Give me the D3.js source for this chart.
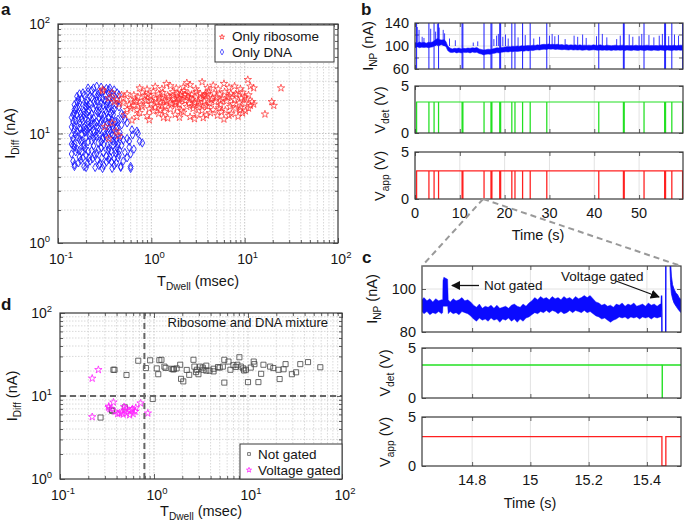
<!DOCTYPE html>
<html><head><meta charset="utf-8">
<script src="https://cdn.jsdelivr.net/npm/d3@7"></script>
<style>
body{margin:0;background:#fff}
svg{display:block}
text{font-family:"Liberation Sans",Arial,Helvetica,sans-serif;fill:#151515}
</style>
</head><body><script>
// ================= DATA =================
// Panel a: [T_Dwell (msec), I_Diff (nA)]
const ribosomeA = [
[0.9,14.5],[1.2,15.2],[1.5,13.8],[1.8,14.9],[2.2,15.6],[2.6,14.2],[3.1,15.0],[3.6,13.9],[4.3,15.4],[5.1,14.6],[6.0,13.5],[7.2,15.1],[8.5,14.3],[1.05,16.0],[1.35,14.0],[0.75,15.5],[9.5,15.3],[3.9,14.7],
[0.6,17.0],[0.7,16.4],[0.8,17.5],[0.95,16.8],[1.1,17.3],[1.25,16.3],[1.4,17.8],[1.6,16.6],[1.9,17.2],[2.1,16.1],[2.4,17.6],[2.8,16.9],[3.2,17.4],[3.5,16.2],[4.0,17.7],[4.6,16.5],[5.3,17.1],[6.2,16.3],[7.0,17.6],[8.0,16.8],[9.0,17.3],[10.2,16.0],[11.0,17.0],[0.55,16.5],[0.65,18.0],
[0.5,19.0],[0.58,18.4],[0.68,19.5],[0.78,18.2],[0.88,19.8],[1.0,18.6],[1.15,19.3],[1.3,18.1],[1.45,19.7],[1.65,18.5],[1.85,19.4],[2.0,18.3],[2.3,19.9],[2.55,18.7],[2.9,19.1],[3.3,18.4],[3.7,19.6],[4.2,18.9],[4.8,19.4],[5.5,18.2],[6.4,19.7],[7.5,18.6],[8.8,19.2],[10.0,18.8],[11.5,18.0],[0.45,18.5],[0.4,19.5],
[0.5,21.0],[0.6,20.4],[0.72,21.5],[0.85,20.2],[0.98,21.8],[1.1,20.6],[1.22,21.3],[1.38,20.1],[1.55,21.6],[1.75,20.7],[1.95,21.2],[2.15,20.3],[2.45,21.7],[2.75,20.5],[3.0,21.4],[3.4,20.8],[3.8,21.9],[4.4,20.3],[5.0,21.5],[5.8,20.6],[6.6,21.3],[7.8,20.2],[9.2,21.0],[10.5,20.5],[0.35,21.0],[0.42,20.5],
[0.55,23.0],[0.65,22.4],[0.8,23.8],[0.92,22.6],[1.05,24.2],[1.2,22.9],[1.32,23.6],[1.5,22.3],[1.7,24.0],[1.9,23.1],[2.05,22.5],[2.25,24.5],[2.5,23.2],[2.7,22.7],[3.05,24.1],[3.35,23.0],[3.75,22.6],[4.1,24.4],[4.7,23.3],[5.4,22.8],[6.1,24.0],[7.1,23.2],[8.2,22.6],[9.5,23.7],[0.3,24.5],[0.38,23.5],[0.48,22.5],
[0.75,26.0],[0.9,25.3],[1.1,26.8],[1.3,25.6],[1.6,27.2],[1.85,25.9],[2.2,26.5],[2.6,27.8],[3.0,25.5],[3.5,29.5],[4.0,26.2],[4.6,27.5],[5.2,25.4],[6.0,28.5],[6.8,26.3],[7.8,27.0],[1.45,28.5],[2.4,29.0],[0.3,25.2],
[0.32,11.5],[0.38,12.5],[0.42,10.5],[0.45,9.5],[0.35,9.0],
[10.8,31],[11.5,27],[12.5,26],[12.0,19.5],[12.5,18.5],[16.5,15],[19.5,19.5],[20.5,18],[24.5,26],[8,23],[9,25.5],[10,21.5],[11,22.5],
[1.0,20.0],[1.3,21.0],[1.7,22.0],[2.0,20.8],[2.3,22.5],[2.6,21.0],[3.2,19.5],[3.6,22.0],[4.5,21.0],[1.2,18.0],[1.8,18.9],[2.8,17.9],[3.8,18.0],[5.5,20.0],[6.8,22.0],[0.7,20.0],[0.85,22.0],[1.6,19.0],[2.1,23.5],[4.0,23.0],
[0.62,13.2],[0.7,14.2],[0.95,13.3],[1.4,15.8],[2.0,14.0],[2.9,13.6],[5.6,15.8],[6.8,14.6],[8.9,16.4],[0.52,14.8]
];
const dnaA = [
[0.15,5.2],[0.17,6.1],[0.19,5.0],[0.22,5.6],[0.25,4.9],[0.28,5.3],[0.31,5.1],[0.35,5.8],[0.38,4.8],[0.42,5.4],[0.47,5.0],[0.6,4.8],
[0.14,6.5],[0.16,7.2],[0.18,6.8],[0.2,6.3],[0.23,7.0],[0.26,6.6],[0.29,7.4],[0.33,6.2],[0.37,6.9],[0.41,7.1],[0.45,6.4],[0.52,6.7],
[0.15,8.1],[0.17,8.8],[0.19,7.9],[0.21,8.4],[0.24,9.1],[0.27,8.2],[0.3,8.9],[0.34,7.8],[0.39,8.5],[0.44,8.0],[0.5,8.7],[0.58,7.5],
[0.14,9.6],[0.16,10.4],[0.18,9.9],[0.2,11.0],[0.22,10.1],[0.25,9.5],[0.28,10.8],[0.32,9.8],[0.36,10.6],[0.4,9.4],[0.46,10.2],[0.55,9.0],
[0.15,11.8],[0.17,12.5],[0.19,11.4],[0.21,13.0],[0.23,12.1],[0.26,11.6],[0.29,12.8],[0.33,11.9],[0.37,12.4],[0.42,11.2],[0.48,12.0],
[0.14,14.0],[0.16,14.8],[0.18,13.6],[0.2,15.2],[0.22,14.3],[0.24,13.9],[0.27,15.5],[0.31,14.6],[0.35,13.8],[0.39,14.9],[0.44,13.5],
[0.15,16.5],[0.17,17.4],[0.19,16.0],[0.21,18.0],[0.24,16.8],[0.28,17.6],[0.32,16.3],[0.36,17.9],[0.4,16.6],
[0.16,19.5],[0.18,20.6],[0.2,19.0],[0.23,21.2],[0.26,19.8],[0.3,20.9],[0.34,19.3],[0.38,21.5],[0.43,20.1],
[0.17,23.0],[0.21,24.1],[0.24,26.0],[0.27,22.8],[0.31,24.6],[0.35,23.4],[0.4,25.0],[0.45,22.5],[0.29,26.5],[0.36,26.0],
[0.145,5.6],[0.165,5.4],[0.185,6.0],[0.205,5.3],[0.235,5.9],[0.265,5.7],[0.295,6.0],[0.33,5.5],[0.36,6.1],[0.4,5.9],[0.44,6.0],[0.5,5.6],
[0.15,7.5],[0.17,7.0],[0.19,7.6],[0.21,6.9],[0.24,7.7],[0.27,7.1],[0.31,7.9],[0.35,7.3],[0.39,7.8],[0.43,7.4],[0.48,7.8],
[0.145,8.9],[0.16,9.3],[0.18,8.6],[0.2,9.2],[0.23,8.5],[0.26,9.4],[0.29,8.4],[0.33,9.3],[0.37,8.8],[0.42,9.0],[0.47,9.3],
[0.15,10.9],[0.17,11.2],[0.19,10.7],[0.22,11.5],[0.24,10.6],[0.27,11.3],[0.31,10.5],[0.35,11.1],[0.39,10.9],[0.43,11.5],
[0.145,12.8],[0.165,13.4],[0.185,12.9],[0.21,12.0],[0.23,13.3],[0.26,12.7],[0.3,13.5],[0.34,12.6],[0.38,13.2],[0.41,12.9],
[0.15,15.4],[0.17,15.9],[0.19,14.8],[0.21,15.8],[0.23,15.1],[0.26,16.0],[0.29,14.7],[0.33,15.6],[0.37,15.3],
[0.15,18.3],[0.17,19.0],[0.2,17.5],[0.22,18.7],[0.25,18.2],[0.29,18.9],[0.33,18.1],[0.37,19.2],[0.42,18.5],
[0.16,21.8],[0.19,22.3],[0.22,21.9],[0.25,23.0],[0.28,21.4],[0.32,22.2],[0.36,21.0],
[0.155,6.8],[0.175,5.7],[0.195,7.3],[0.215,6.0],[0.245,6.4],[0.275,5.1],[0.305,6.7],[0.345,7.0],[0.375,5.5],[0.415,6.6],[0.455,7.0],
[0.155,9.9],[0.175,8.4],[0.195,10.3],[0.215,9.6],[0.245,10.2],[0.275,9.8],[0.305,9.2],[0.345,10.2],[0.385,9.7],[0.425,8.6],
[0.155,13.0],[0.175,11.0],[0.195,13.6],[0.215,11.3],[0.245,12.4],[0.275,13.8],[0.305,12.2],[0.345,14.0],[0.385,11.7],[0.435,12.6],
[0.155,17.0],[0.175,15.2],[0.195,17.8],[0.215,16.4],[0.245,19.5],[0.275,16.2],[0.305,18.0],[0.345,17.0],[0.385,16.0],[0.45,17.5],
[0.165,20.5],[0.185,23.5],[0.205,20.0],[0.23,24.8],[0.26,21.7],[0.285,24.0],[0.32,20.2],[0.35,25.0],[0.39,22.8],[0.43,23.5],
[0.145,7.8],[0.14,11.5],[0.14,8.0],[0.145,15.0],[0.15,5.0],[0.2,4.9],[0.3,4.8],[0.4,5.1],[0.21,26.0],[0.26,27.0],[0.33,25.8],
[0.62,10.8],[0.55,12.5],[0.7,10.5],[0.75,8.5],[0.8,8.2],[0.6,6.5],[0.65,7.2],[0.52,13.5],[0.58,8.5],[0.63,9.7],[0.6,5.0],[0.5,14.5],[0.55,6.0],[0.72,10.0],[0.48,15.2],[0.47,4.9]
];
// Panel d
const notGatedD = [
[0.68,26.6],[0.37,20.7],[0.38,20.7],[0.51,17.9],[0.27,5.5],[0.355,6.8],[0.49,7.3],[0.97,9.2],[0.82,21.7],[0.91,26.9],[1.07,21.5],[1.11,18.3],[1.14,27],[1.2,27.3],[1.29,22.6],[1.33,21.8],[1.54,21.3],[1.63,21.1],[1.74,21.5],[1.9,23.8],[1.94,16.1],[2.05,15],[2.23,20.6],[2.37,18.0],[2.63,27.3],[2.69,22.6],[2.86,20.7],[2.97,18.3],[3.09,22.6],[3.36,20.7],[3.6,23.2],[3.9,20.2],[4.3,21.3],[5.0,22],[5.4,22.6],[5.6,27.3],[5.6,14.5],[6.2,26.0],[6.5,20.7],[7.0,23.5],[7.7,23.8],[8.1,29.3],[8.4,22.6],[8.9,21.5],[9.5,20.7],[10.0,14.7],[10.7,22],[11.5,26],[11.7,24.2],[12.9,14.7],[13.8,18.5],[14.6,23.8],[17.2,22.6],[18.6,21.7],[21.1,20.7],[21.7,16],[23.9,21],[25.1,24.2],[29.3,18.3],[32.5,19.3],[36.0,24.2],[43.5,25.6],[58.8,22.2],[4.3,19.8],[3.6,20.2],[4.8,22.3],[7.4,22.4],[9.1,20.3],[1.6,20.9],[2.8,19.4],[3.3,22.0],[0.36,6.6]
];
const gatedD = [
[0.22,16.3],[0.256,20.7],[0.22,5.6],[0.33,7.3],[0.34,7.0],[0.37,8.4],[0.385,6.5],[0.41,6.1],[0.45,6.3],[0.48,7.4],[0.49,6.7],[0.51,6.2],[0.55,5.9],[0.58,6.8],[0.6,6.1],[0.63,6.5],[0.64,7.2],[0.72,8.2],[0.86,6.2],[0.43,6.2],[0.33,7.5],[0.56,6.6],[0.59,7.0],[0.5,7.1],[0.47,6.0]
];
const dThresholdT = 0.79, dThresholdI = 10;
// Log axes ticks
const logXMajor = [0.1, 1, 10, 100], logXExp = ["-1", "0", "1", "2"];
const logYMajor = [1, 10, 100], logYExp = ["0", "1", "2"];
// Panel b
const bTimeTicks = [0, 10, 20, 30, 40, 50];
const bCurrentTicks = [60, 80, 100, 120, 140];
const bCurrentLabels = [60, 100, 140];
const vTicks = [0, 5];
const bGates = [0.35,3.1,4.25,5.25,10.5,10.68,15.4,16.95,17.15,18.9,19.1,21.6,22.3,24.0,25.7,29.4,41.0,46.5,46.68,51.1,55.7,55.9,57.3,59.7];
// [time (s), low (nA), high (nA)] envelope of the noisy current
const bEnvelope = [[0,97,106],[0.5,98.5,105],[1,97,107],[1.5,98,105.5],[2,97.5,106.5],[2.5,98,105],[3,97,106.5],[3.5,98,106],[4,98.5,107.5],[4.5,101,110.5],[5,102,113],[5.5,101.5,111],[6,102,110.5],[6.5,100.5,111],[6.9,99,108],[7.3,92,100],[7.8,89,96.5],[8.3,88.5,95],[8.8,89.5,96],[9.3,88,95.5],[9.8,89,96.5],[10.3,88,95],[10.8,89,96],[11.3,88.5,95.5],[11.8,89,96.5],[12.3,88,96],[12.8,89.5,97],[13.3,88.5,96.5],[13.8,89,97.5],[14.3,87,95],[14.8,86,94],[15.3,84.5,93],[15.8,85.5,93.5],[16.3,86,94.5],[16.8,85.5,94],[17.3,87,95],[17.8,87.5,96],[18.3,88.5,97],[18.8,88,96.5],[19.3,89,97.5],[19.8,89.5,98],[20.3,90,98.5],[20.8,89.5,99],[21.3,90.5,98.5],[21.8,90,99.5],[22.3,91,99],[22.8,90.5,100],[23.3,91,99.5],[23.8,91.5,100.5],[24.3,91,100],[24.8,92,100.5],[25.3,91.5,101],[25.8,92.5,100.5],[26.3,92,101.5],[26.8,93,101],[27.3,93.5,102],[27.8,93,101.5],[28.3,94,102.5],[28.8,94.5,103],[29.3,94,102.5],[29.8,95,103.5],[30.3,94.5,102.5],[30.8,95,103],[31.3,94,102.5],[31.8,94.5,103],[32.3,94,102],[32.8,93.5,102.5],[33.3,94,101.5],[33.8,93.5,102.5],[34.3,93,101.5],[34.8,94,102],[35.3,93,101.5],[35.8,93.5,102],[36.3,93,101],[36.8,93.5,102],[37.3,92.5,101],[37.8,93,101.5],[38.3,93.5,101],[38.8,92.5,101.5],[39.3,93,101],[39.8,93.5,102],[40.3,93,101.5],[40.8,92.5,101],[41.3,93,102],[41.8,92.5,101],[42.3,93,100.5],[42.8,92.5,101.5],[43.3,93,101],[43.8,92,100.5],[44.3,93,101],[44.8,92.5,101.5],[45.3,93,100.5],[45.8,92.5,101],[46.3,93,101.5],[46.8,92,100.5],[47.3,93,101],[47.8,92.5,100.5],[48.3,92,101],[48.8,93,100.5],[49.3,92.5,101.5],[49.8,92,100.5],[50.3,93,101],[50.8,92.5,100.5],[51.3,92,101],[51.8,93,101.5],[52.3,92.5,100.5],[52.8,92,101],[53.3,93,100.5],[53.8,92.5,101],[54.3,92,100.5],[54.8,93,101.5],[55.3,92.5,100.5],[55.8,92,101],[56.3,93,100.5],[56.8,92.5,101],[57.3,92,100.5],[57.8,93,101.5],[58.3,92.5,100.5],[58.8,93,101],[59.3,92.5,101.5],[59.8,93,101]];
const bSpikes = [[0.5,133],[0.9,128],[1.6,116],[2.0,114],[3.5,130],[4.6,125],[5.0,139],[5.4,132],[6.3,128],[6.6,122],[7.7,113],[9.0,110],[13.0,106],[14.0,108],[17.6,112],[18.2,118],[18.6,121],[19.6,116],[20.2,120],[20.8,113],[23.0,115],[24.6,119],[26.5,113],[27.8,116],[30.0,118],[30.6,121],[31.2,117],[32.0,119],[33.5,112],[35.5,118],[36.3,116],[37.4,120],[38.2,114],[40.5,117],[41.8,121],[42.8,115],[45.0,112],[45.8,118],[47.8,120],[48.6,116],[50.0,117],[50.6,121],[52.2,119],[53.3,115],[54.5,118],[55.2,121],[56.6,117],[57.9,120],[58.8,118]];
const vDetLevel = 3.3, vAppLevel = 3.0;
// Panel c
const cTimeTicks = [14.8, 15, 15.2, 15.4];
const cTimeLabels = ["14.8", "15", "15.2", "15.4"];
const cCurrentTicks = [80, 100];
const cEnvelope = [[14.627,89.5,95],[14.635,88.5,96],[14.645,89.5,94.5],[14.655,88,95.5],[14.665,89,94],[14.675,88.5,95.5],[14.685,89.5,94.5],[14.695,88.5,95],[14.699,89,95],[14.700,92,104],[14.703,92,105.5],[14.716,92,104.5],[14.718,88.5,95],[14.725,89.5,94],[14.735,88.5,95.5],[14.745,89,94.5],[14.755,88,95],[14.765,89.5,96],[14.775,89,94.5],[14.785,88.5,95],[14.795,87.5,94],[14.805,86,92.5],[14.815,85,91.5],[14.825,86.5,93],[14.835,85.5,91],[14.845,86,92],[14.855,85,91.5],[14.865,86.5,92.5],[14.875,85.5,91],[14.885,86,92.5],[14.895,84.5,91],[14.905,86,91.5],[14.915,85.5,92],[14.925,86.5,91],[14.935,85,92.5],[14.945,86,93],[14.955,84.5,92],[14.965,86,91.5],[14.975,85,93],[14.985,86.5,92],[14.995,87,93.5],[15.005,88,94.5],[15.015,89,96],[15.025,88.5,95],[15.035,89.5,96.5],[15.045,89,95.5],[15.055,90,96],[15.065,89,95],[15.075,90,96.5],[15.085,89.5,95.5],[15.095,88.5,96],[15.105,89.5,95],[15.115,88.5,96.5],[15.125,89,95.5],[15.135,90,96],[15.145,89,95],[15.155,90,96.5],[15.165,89.5,95.5],[15.175,89,96],[15.185,90,97],[15.195,89,96],[15.205,89.5,97],[15.215,88.5,95.5],[15.225,87.5,94],[15.235,87,93.5],[15.245,86,92.5],[15.255,86.5,93],[15.265,85.5,92],[15.275,84.5,92.5],[15.285,85.5,91.5],[15.295,86,93],[15.305,87,92.5],[15.315,86.5,93.5],[15.325,87,92],[15.335,86,93],[15.345,87,92.5],[15.355,86.5,93.5],[15.365,87,92],[15.375,86,92.5],[15.385,87,93],[15.395,86.5,92],[15.405,87,93.5],[15.415,86,92.5],[15.425,87,93],[15.435,86.5,92],[15.445,87,93],[15.449,87,93]];
const cGateT = [15.449,15.4503,15.4512,15.4518,15.4645,15.4650,15.4665];
const cGateI = [90,97,89,70,70,120,120];
const cDecay = [[15.479,112,120],[15.481,103,113],[15.484,98,106],[15.488,95.5,102],[15.493,93.5,100],[15.500,92,98],[15.505,91,97.5],[15.510,90,96],[15.518,89,95]];
const cDetPulse = [15.4525, 15.4528];
const cAppPulse = [15.4515, 15.465];

// ================= DRAWING =================
const W = 685, H = 528;
const svg = d3.select("body").append("svg").attr("width", W).attr("height", H);
const AX = "#3a3a3a";
let clipId = 0;
function clip(box) {
  const id = "clip" + (clipId++);
  svg.append("clipPath").attr("id", id).append("rect")
    .attr("x", box.l).attr("y", box.t).attr("width", box.r - box.l).attr("height", box.b - box.t);
  return "url(#" + id + ")";
}
function cleanAxis(sel) {
  sel.select(".domain").remove();
  sel.selectAll("line").attr("stroke", AX).attr("stroke-width", 0.8);
  sel.selectAll("text").remove();
}
function drawBox(g, box) {
  g.append("rect").attr("x", box.l).attr("y", box.t).attr("width", box.r - box.l).attr("height", box.b - box.t)
    .attr("fill", "none").attr("stroke", AX).attr("stroke-width", 1.2);
}
function supLabel(sel, base, exp) {
  sel.append("tspan").text(base);
  sel.append("tspan").attr("dy", -6).attr("font-size", 9.5).text(exp);
}
function subLabel(sel, main, sub, rest, fs) {
  sel.append("tspan").text(main);
  sel.append("tspan").attr("dy", 4).attr("font-size", fs * 0.7).text(sub);
  sel.append("tspan").attr("dy", -4).text(rest);
}

function logPanel(box) {
  const g = svg.append("g");
  const x = d3.scaleLog().domain([0.1, 100]).range([box.l, box.r]);
  const y = d3.scaleLog().domain([1, 100]).range([box.b, box.t]);
  const xt = x.ticks(), yt = y.ticks();
  const isMajor = d => Math.abs(Math.log10(d) - Math.round(Math.log10(d))) < 1e-6;
  const grid = g.append("g");
  grid.selectAll(".gx").data(xt.filter(d => d > 0.1 && d < 100)).join("line")
    .attr("x1", d => x(d)).attr("x2", d => x(d)).attr("y1", box.t).attr("y2", box.b)
    .attr("stroke", d => isMajor(d) ? "#b8b8b8" : "#cfcfcf").attr("stroke-width", 0.8).attr("stroke-dasharray", "1.5,1.5");
  grid.selectAll(".gy").data(yt.filter(d => d > 1 && d < 100)).join("line")
    .attr("y1", d => y(d)).attr("y2", d => y(d)).attr("x1", box.l).attr("x2", box.r)
    .attr("stroke", d => isMajor(d) ? "#b8b8b8" : "#cfcfcf").attr("stroke-width", 0.8).attr("stroke-dasharray", "1.5,1.5");
  const minX = xt.filter(d => !isMajor(d)), majX = xt.filter(isMajor);
  const minY = yt.filter(d => !isMajor(d)), majY = yt.filter(isMajor);
  [[d3.axisBottom, box.b], [d3.axisTop, box.t]].forEach(([f, pos]) => {
    g.append("g").attr("transform", `translate(0,${pos})`).call(f(x).tickValues(minX).tickSize(-3).tickFormat("")).call(cleanAxis);
    g.append("g").attr("transform", `translate(0,${pos})`).call(f(x).tickValues(majX).tickSize(-5).tickFormat("")).call(cleanAxis);
  });
  [[d3.axisLeft, box.l], [d3.axisRight, box.r]].forEach(([f, pos]) => {
    g.append("g").attr("transform", `translate(${pos},0)`).call(f(y).tickValues(minY).tickSize(-3).tickFormat("")).call(cleanAxis);
    g.append("g").attr("transform", `translate(${pos},0)`).call(f(y).tickValues(majY).tickSize(-5).tickFormat("")).call(cleanAxis);
  });
  g.selectAll(".xl").data(logXMajor).join("text")
    .attr("x", d => x(d) + 3).attr("y", box.b + 21).attr("text-anchor", "middle").attr("font-size", 14)
    .each(function (d, i) { supLabel(d3.select(this), "10", logXExp[i]); });
  g.selectAll(".yl").data(logYMajor).join("text")
    .attr("x", box.l - 8).attr("y", d => y(d) + 5).attr("text-anchor", "end").attr("font-size", 14)
    .each(function (d, i) { supLabel(d3.select(this), "10", logYExp[i]); });
  return { g, x, y };
}

// ---------- Panel a ----------
const boxA = { l: 58, r: 338, t: 24, b: 243 };
const A = logPanel(boxA);
const cpA = clip(boxA);
const diamond = d3.symbol().type(d3.symbolDiamond).size(20);
const star = d3.symbol().type(d3.symbolStar).size(17);
A.g.append("g").attr("clip-path", cpA).selectAll("path").data(dnaA).join("path")
  .attr("d", diamond).attr("transform", d => `translate(${A.x(d[0])},${A.y(d[1])})`)
  .attr("fill", "none").attr("stroke", "#1515ff").attr("stroke-width", 0.85);
A.g.append("g").attr("clip-path", cpA).selectAll("path").data(ribosomeA).join("path")
  .attr("d", star).attr("transform", d => `translate(${A.x(d[0])},${A.y(d[1])})`)
  .attr("fill", "none").attr("stroke", "#ff2a2a").attr("stroke-width", 0.7);
drawBox(A.g, boxA);
// legend a
A.g.append("rect").attr("x", 215).attr("y", 25).attr("width", 119).attr("height", 37)
  .attr("fill", "#fff").attr("stroke", AX).attr("stroke-width", 1);
A.g.append("path").attr("d", d3.symbol().type(d3.symbolStar).size(8)).attr("transform", "translate(222,37)")
  .attr("fill", "none").attr("stroke", "#ff1a1a").attr("stroke-width", 0.7);
A.g.append("path").attr("d", d3.symbol().type(d3.symbolDiamond).size(10)).attr("transform", "translate(222,52)")
  .attr("fill", "none").attr("stroke", "#1a1aff").attr("stroke-width", 0.7);
A.g.append("text").attr("x", 232).attr("y", 41).attr("font-size", 13.5).text("Only ribosome");
A.g.append("text").attr("x", 232).attr("y", 57).attr("font-size", 13.5).text("Only DNA");
subLabel(svg.append("text").attr("transform", `translate(15,${(boxA.t + boxA.b) / 2}) rotate(-90)`)
  .attr("text-anchor", "middle").attr("font-size", 14.5), "I", "Diff", " (nA)", 14.5);
subLabel(svg.append("text").attr("x", (boxA.l + boxA.r) / 2).attr("y", 286).attr("text-anchor", "middle").attr("font-size", 14.5),
  "T", "Dwell", " (msec)", 14.5);

// ---------- Panel d ----------
const boxD = { l: 60, r: 342, t: 313, b: 479 };
const D = logPanel(boxD);
const cpD = clip(boxD);
const square = d3.symbol().type(d3.symbolSquare).size(26);
D.g.append("g").attr("clip-path", cpD).selectAll("path").data(notGatedD).join("path")
  .attr("d", square).attr("transform", d => `translate(${D.x(d[0])},${D.y(d[1])})`)
  .attr("fill", "none").attr("stroke", "#444").attr("stroke-width", 0.8);
D.g.append("g").attr("clip-path", cpD).selectAll("path").data(gatedD).join("path")
  .attr("d", star).attr("transform", d => `translate(${D.x(d[0])},${D.y(d[1])})`)
  .attr("fill", "none").attr("stroke", "#ff22ff").attr("stroke-width", 0.8);
D.g.append("line").attr("x1", D.x(dThresholdT)).attr("x2", D.x(dThresholdT)).attr("y1", boxD.t).attr("y2", boxD.b)
  .attr("stroke", "#666").attr("stroke-width", 2).attr("stroke-dasharray", "6,4");
D.g.append("line").attr("x1", boxD.l).attr("x2", boxD.r).attr("y1", D.y(dThresholdI)).attr("y2", D.y(dThresholdI))
  .attr("stroke", "#666").attr("stroke-width", 2).attr("stroke-dasharray", "6,4");
drawBox(D.g, boxD);
D.g.append("text").attr("x", 328).attr("y", 327).attr("text-anchor", "end").attr("font-size", 13).text("Ribosome and DNA mixture");
D.g.append("rect").attr("x", 240).attr("y", 444).attr("width", 102).attr("height", 35)
  .attr("fill", "#fff").attr("stroke", AX).attr("stroke-width", 1);
D.g.append("path").attr("d", d3.symbol().type(d3.symbolSquare).size(8)).attr("transform", "translate(249,454)")
  .attr("fill", "none").attr("stroke", "#444").attr("stroke-width", 0.7);
D.g.append("path").attr("d", d3.symbol().type(d3.symbolStar).size(8)).attr("transform", "translate(249,470)")
  .attr("fill", "none").attr("stroke", "#ff22ff").attr("stroke-width", 0.8);
D.g.append("text").attr("x", 258).attr("y", 459).attr("font-size", 13.5).text("Not gated");
D.g.append("text").attr("x", 258).attr("y", 475).attr("font-size", 13.5).text("Voltage gated");
subLabel(svg.append("text").attr("transform", `translate(17,${(boxD.t + boxD.b) / 2}) rotate(-90)`)
  .attr("text-anchor", "middle").attr("font-size", 14.5), "I", "Diff", " (nA)", 14.5);
subLabel(svg.append("text").attr("x", (boxD.l + boxD.r) / 2).attr("y", 516).attr("text-anchor", "middle").attr("font-size", 14.5),
  "T", "Dwell", " (msec)", 14.5);

// ---------- time panels helper ----------
function timePanel(x, box, yDomain, yTicks, yLabels, xTicks, xLabels) {
  const g = svg.append("g");
  const y = d3.scaleLinear().domain(yDomain).range([box.b, box.t]);
  g.selectAll(".gx").data(xTicks).join("line")
    .attr("x1", d => x(d)).attr("x2", d => x(d)).attr("y1", box.t).attr("y2", box.b)
    .attr("stroke", "#e2e2e2").attr("stroke-width", 1);
  g.selectAll(".gy").data(yTicks.filter(d => d > yDomain[0] && d < yDomain[1])).join("line")
    .attr("y1", d => y(d)).attr("y2", d => y(d)).attr("x1", box.l).attr("x2", box.r)
    .attr("stroke", "#e2e2e2").attr("stroke-width", 1);
  g.append("g").attr("transform", `translate(0,${box.b})`).call(d3.axisBottom(x).tickValues(xTicks).tickSize(-4).tickFormat("")).call(cleanAxis);
  g.append("g").attr("transform", `translate(0,${box.t})`).call(d3.axisTop(x).tickValues(xTicks).tickSize(-4).tickFormat("")).call(cleanAxis);
  g.append("g").attr("transform", `translate(${box.l},0)`).call(d3.axisLeft(y).tickValues(yTicks).tickSize(-4).tickFormat("")).call(cleanAxis);
  g.append("g").attr("transform", `translate(${box.r},0)`).call(d3.axisRight(y).tickValues(yTicks).tickSize(-4).tickFormat("")).call(cleanAxis);
  g.selectAll(".yl").data(yLabels).join("text")
    .attr("x", box.l - 6).attr("y", d => y(d) + 5).attr("text-anchor", "end").attr("font-size", 14.5).text(d => d);
  if (xLabels) {
    g.selectAll(".xl").data(xTicks).join("text")
      .attr("x", d => x(d)).attr("y", box.b + 19).attr("text-anchor", "middle").attr("font-size", 14.5)
      .text((d, i) => xLabels[i]);
  }
  const cp = clip(box);
  const plot = g.append("g").attr("clip-path", cp);
  return { g, y, plot, box };
}
function pulseTrain(gates, level, width, tEnd) {
  const pts = [];
  gates.forEach(t => { pts.push([t, level], [t, 0], [t + width, 0], [t + width, level]); });
  pts.push([tEnd, level]);
  return pts;
}

// ---------- Panel b ----------
const xB = d3.scaleLinear().domain([0, 59.8]).range([415, 683]);
const b1 = timePanel(xB, { l: 415, r: 683, t: 23, b: 69 }, [60, 140], bCurrentTicks, bCurrentLabels, bTimeTicks, null);
const b2 = timePanel(xB, { l: 415, r: 683, t: 86, b: 133 }, [0, 5], vTicks, vTicks, bTimeTicks, null);
const b3 = timePanel(xB, { l: 415, r: 683, t: 152, b: 199 }, [0, 5], vTicks, vTicks, bTimeTicks, bTimeTicks);
const BLUE = "#0a0aff";
b1.plot.append("path").datum(bEnvelope)
  .attr("d", d3.area().x(d => xB(d[0])).y0(d => b1.y(d[1])).y1(d => b1.y(d[2])))
  .attr("fill", BLUE).attr("stroke", BLUE).attr("stroke-width", 0.5);
b1.plot.selectAll(".sp").data(bSpikes).join("line")
  .attr("x1", d => xB(d[0])).attr("x2", d => xB(d[0])).attr("y1", b1.y(100)).attr("y2", d => b1.y(d[1]))
  .attr("stroke", BLUE).attr("stroke-width", 1).attr("opacity", 0.8);
b1.plot.selectAll(".gt").data(bGates).join("line")
  .attr("x1", d => xB(d)).attr("x2", d => xB(d)).attr("y1", b1.y(55)).attr("y2", b1.y(145))
  .attr("stroke", BLUE).attr("stroke-width", 1.1).attr("opacity", 0.85);
b2.plot.append("path").datum(pulseTrain(bGates, vDetLevel, 0.012, 59.8))
  .attr("d", d3.line().x(d => xB(d[0])).y(d => b2.y(d[1])))
  .attr("fill", "none").attr("stroke", "#22e022").attr("stroke-width", 1.2);
b3.plot.append("path").datum(pulseTrain(bGates, vAppLevel, 0.015, 59.8))
  .attr("d", d3.line().x(d => xB(d[0])).y(d => b3.y(d[1])))
  .attr("fill", "none").attr("stroke", "#ff2020").attr("stroke-width", 1.2);
[b1, b2, b3].forEach(p => drawBox(p.g, p.box));
subLabel(svg.append("text").attr("transform", `translate(373,46) rotate(-90)`).attr("text-anchor", "middle").attr("font-size", 14.5), "I", "NP", " (nA)", 14.5);
subLabel(svg.append("text").attr("transform", `translate(385,110) rotate(-90)`).attr("text-anchor", "middle").attr("font-size", 14.5), "V", "det", " (V)", 14.5);
subLabel(svg.append("text").attr("transform", `translate(385,176) rotate(-90)`).attr("text-anchor", "middle").attr("font-size", 14.5), "V", "app", " (V)", 14.5);
svg.append("text").attr("x", 538).attr("y", 240).attr("text-anchor", "middle").attr("font-size", 14.5).text("Time (s)");

// ---------- Panel c ----------
const xC = d3.scaleLinear().domain([14.628, 15.517]).range([422, 681]);
const c1 = timePanel(xC, { l: 422, r: 681, t: 266, b: 332 }, [80, 110.7], cCurrentTicks, cCurrentTicks, cTimeTicks, null);
const c2 = timePanel(xC, { l: 422, r: 681, t: 348, b: 398 }, [0, 5], vTicks, vTicks, cTimeTicks, null);
const c3 = timePanel(xC, { l: 422, r: 681, t: 417, b: 466 }, [0, 5], vTicks, vTicks, cTimeTicks, cTimeLabels);
c1.plot.append("path").datum(cEnvelope)
  .attr("d", d3.area().x(d => xC(d[0])).y0(d => c1.y(d[1])).y1(d => c1.y(d[2])))
  .attr("fill", BLUE).attr("stroke", BLUE).attr("stroke-width", 0.4);
c1.plot.append("path").datum(cGateT.map((t, i) => [t, cGateI[i]]))
  .attr("d", d3.line().x(d => xC(d[0])).y(d => c1.y(d[1])))
  .attr("fill", "none").attr("stroke", BLUE).attr("stroke-width", 1.4);
c1.plot.append("path").datum(cDecay)
  .attr("d", d3.area().x(d => xC(d[0])).y0(d => c1.y(d[1])).y1(d => c1.y(d[2])))
  .attr("fill", BLUE).attr("stroke", BLUE).attr("stroke-width", 0.8);
c2.plot.append("path").datum(pulseTrain([cDetPulse[0]], vDetLevel, cDetPulse[1] - cDetPulse[0], 15.517))
  .attr("d", d3.line().x(d => xC(d[0])).y(d => c2.y(d[1])))
  .attr("fill", "none").attr("stroke", "#22e022").attr("stroke-width", 1.3);
c2.plot.append("line").attr("x1", xC(14.628)).attr("x2", xC(cDetPulse[0])).attr("y1", c2.y(vDetLevel)).attr("y2", c2.y(vDetLevel))
  .attr("stroke", "#22e022").attr("stroke-width", 1.3);
c3.plot.append("path").datum([[14.628, vAppLevel]].concat(pulseTrain([cAppPulse[0]], vAppLevel, cAppPulse[1] - cAppPulse[0], 15.517)))
  .attr("d", d3.line().x(d => xC(d[0])).y(d => c3.y(d[1])))
  .attr("fill", "none").attr("stroke", "#ff2020").attr("stroke-width", 1.3);
[c1, c2, c3].forEach(p => drawBox(p.g, p.box));
subLabel(svg.append("text").attr("transform", `translate(377,299) rotate(-90)`).attr("text-anchor", "middle").attr("font-size", 14.5), "I", "NP", " (nA)", 14.5);
subLabel(svg.append("text").attr("transform", `translate(390,373) rotate(-90)`).attr("text-anchor", "middle").attr("font-size", 14.5), "V", "det", " (V)", 14.5);
subLabel(svg.append("text").attr("transform", `translate(390,442) rotate(-90)`).attr("text-anchor", "middle").attr("font-size", 14.5), "V", "app", " (V)", 14.5);
svg.append("text").attr("x", 530).attr("y", 508).attr("text-anchor", "middle").attr("font-size", 14.5).text("Time (s)");

// annotations
const defs = svg.append("defs");
defs.append("marker").attr("id", "arr").attr("viewBox", "0 0 10 10").attr("refX", 9).attr("refY", 5)
  .attr("markerWidth", 7).attr("markerHeight", 7).attr("orient", "auto-start-reverse")
  .append("path").attr("d", "M0,0 L10,5 L0,10 z").attr("fill", "#111");
svg.append("line").attr("x1", 479).attr("y1", 285.5).attr("x2", 452).attr("y2", 285.5)
  .attr("stroke", "#111").attr("stroke-width", 1.3).attr("marker-end", "url(#arr)");
svg.append("text").attr("x", 484).attr("y", 290).attr("font-size", 13.5).text("Not gated");
svg.append("text").attr("x", 561).attr("y", 281).attr("font-size", 13.5).text("Voltage gated");
svg.append("line").attr("x1", 616).attr("y1", 281).attr("x2", 659).attr("y2", 297)
  .attr("stroke", "#111").attr("stroke-width", 1.3).attr("marker-end", "url(#arr)");

// zoom connector (from t≈15 in b to c)
const apex = [xB(15.2), 199];
[[422, 266], [681, 266]].forEach(p => {
  svg.append("line").attr("x1", apex[0]).attr("y1", apex[1]).attr("x2", p[0]).attr("y2", p[1])
    .attr("stroke", "#999").attr("stroke-width", 2).attr("stroke-dasharray", "6,4");
});

// panel letters
[["a", 1, 15], ["b", 361, 15], ["c", 362, 263], ["d", 1, 310]].forEach(([t, x, y]) => {
  svg.append("text").attr("x", x).attr("y", y).attr("font-size", 17).attr("font-weight", "bold").text(t);
});
</script></body></html>
